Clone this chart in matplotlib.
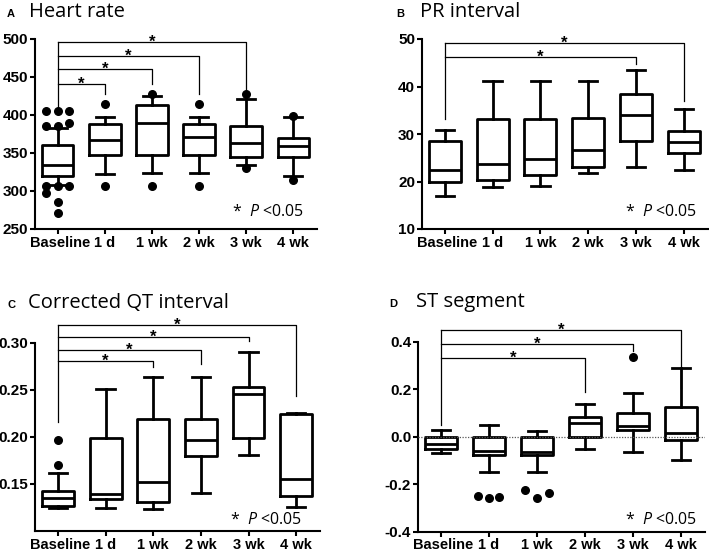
import matplotlib
matplotlib.use("Agg")
import matplotlib.pyplot as plt
from matplotlib.transforms import ScaledTranslation

plt.rcParams["font.family"] = ["Liberation Sans", "DejaVu Sans"]
plt.rcParams["mathtext.fontset"] = "custom"
plt.rcParams["mathtext.rm"] = "Open Sans"
plt.rcParams["mathtext.it"] = "Open Sans:italic"

# ── Data ─────────────────────────────────────────────────────────────────────
GROUPS = ["Baseline", "1 d", "1 wk", "2 wk", "3 wk", "4 wk"]

# A  Heart rate
hr_whislo = [307.5, 322.2, 323.6, 323.6, 333.8, 319.3]
hr_q1     = [319.3, 347.8, 347.8, 347.0, 344.8, 344.8]
hr_med    = [334.0, 366.7, 389.5, 371.0, 363.2, 358.8]
hr_q3     = [361.0, 388.6, 413.6, 388.6, 385.1, 369.7]
hr_whishi = [383.0, 396.9, 425.4, 396.9, 421.5, 396.9]
hr_fliers = [
    [405, 405, 405, 385, 385, 389, 307, 307, 307, 297, 286, 271],
    [414, 307], [427, 307], [414, 307], [427, 330], [399, 315],
]
hr_sig_to   = [1, 2, 3, 4]
hr_sig_y    = [441, 460, 478, 496]
hr_sig_drop = [427, 441, 428, 428]
hr_sig_base = 409

# B  PR interval
pr_whislo = [16.9, 18.8, 19.0, 21.8, 23.0, 22.4]
pr_q1     = [19.8, 20.3, 21.3, 23.0, 28.5, 25.9]
pr_med    = [22.4, 23.6, 24.8, 26.6, 34.0, 28.4]
pr_q3     = [28.6, 33.2, 33.2, 33.4, 38.5, 30.7]
pr_whishi = [30.8, 41.2, 41.2, 41.2, 43.5, 35.3]
pr_fliers = [[], [], [], [], [], []]
pr_sig_to   = [4, 5]
pr_sig_y    = [46.2, 49.2]
pr_sig_drop = [44.7, 37.0]
pr_sig_base = 33.2

# C  Corrected QT interval
qt_whislo = [0.124, 0.124, 0.1235, 0.1405, 0.181, 0.125]
qt_q1     = [0.127, 0.134, 0.1305, 0.1795, 0.199, 0.137]
qt_med    = [0.135, 0.139, 0.152, 0.197, 0.2455, 0.155]
qt_q3     = [0.142, 0.199, 0.2185, 0.2185, 0.253, 0.224]
qt_whishi = [0.162, 0.2505, 0.264, 0.264, 0.290, 0.225]
qt_fliers = [[0.197, 0.170], [], [], [], [], []]
qt_sig_to   = [2, 3, 4, 5]
qt_sig_y    = [0.2807, 0.2926, 0.306, 0.3186]
qt_sig_drop = [0.2747, 0.2779, 0.302, 0.2431]
qt_sig_base = 0.2157

# D  ST segment
st_whislo = [-0.068, -0.147, -0.147, -0.050, -0.065, -0.098]
st_q1     = [-0.052, -0.076, -0.077, 0.000, 0.028, -0.015]
st_med    = [-0.030, -0.062, -0.065, 0.058, 0.045, 0.015]
st_q3     = [0.000, -0.002, -0.002, 0.083, 0.098, 0.127]
st_whishi = [0.028, 0.049, 0.026, 0.139, 0.184, 0.288]
st_fliers = [[], [-0.248, -0.256, -0.254], [-0.225, -0.256, -0.237], [], [0.335], []]
st_sig_to   = [3, 4, 5]
st_sig_y    = [0.330, 0.390, 0.449]
st_sig_drop = [0.187, 0.361, 0.206]
st_sig_base = 0.049

# ── Layout / style ───────────────────────────────────────────────────────────
W, H = 709, 552
LW = 2.0
JITTER = {  # horizontal spread of overlapping outliers (panel, group)
    ("A", 0): [-0.25, 0, 0.25, -0.25, 0, 0.25, -0.25, 0, 0.25, -0.25, 0, 0],
    ("D", 1): [-0.22, 0, 0.22],
    ("D", 2): [-0.25, 0, 0.25],
}

PANELS = [
    dict(tag="A", title="Heart rate", rect=(35, 229, 317, 39), title_xy=(7, 29, 16.7),
         ylim=(250, 500), yticks=[250, 300, 350, 400, 450, 500], fmt="{:.0f}",
         stats=(hr_whislo, hr_q1, hr_med, hr_q3, hr_whishi), fliers=hr_fliers,
         sig=(hr_sig_to, hr_sig_y, hr_sig_drop, hr_sig_base), p_xy=(0.955, 0.09)),
    dict(tag="B", title="PR interval", rect=(421.7, 229, 708, 39), title_xy=(396, 420, 16.7),
         ylim=(10, 50), yticks=[10, 20, 30, 40, 50], fmt="{:.0f}",
         stats=(pr_whislo, pr_q1, pr_med, pr_q3, pr_whishi), fliers=pr_fliers,
         sig=(pr_sig_to, pr_sig_y, pr_sig_drop, pr_sig_base), p_xy=(0.962, 0.09)),
    dict(tag="C", title="Corrected QT interval", rect=(35, 531, 320, 342.7), title_xy=(7, 28, 308.3),
         ylim=(0.10, 0.30), yticks=[0.15, 0.20, 0.25, 0.30], fmt="{:.2f}",
         stats=(qt_whislo, qt_q1, qt_med, qt_q3, qt_whishi), fliers=qt_fliers,
         sig=(qt_sig_to, qt_sig_y, qt_sig_drop, qt_sig_base), p_xy=(0.937, 0.06)),
    dict(tag="D", title="ST segment", rect=(417.7, 531.7, 705, 341.7), title_xy=(389, 416.5, 307.3),
         ylim=(-0.4, 0.4), yticks=[-0.4, -0.2, 0.0, 0.2, 0.4], fmt="{:.1f}",
         stats=(st_whislo, st_q1, st_med, st_q3, st_whishi), fliers=st_fliers,
         sig=(st_sig_to, st_sig_y, st_sig_drop, st_sig_base), p_xy=(0.972, 0.06)),
]


def draw_panel(fig, p):
    x0, y0, x1, y1 = p["rect"]
    ax = fig.add_axes([x0 / W, 1 - y0 / H, (x1 - x0) / W, (y0 - y1) / H])
    whislo, q1, med, q3, whishi = p["stats"]
    stats = [dict(whislo=a, q1=b, med=c, q3=d, whishi=e)
             for a, b, c, d, e in zip(whislo, q1, med, q3, whishi)]
    line = dict(color="black", linewidth=LW)
    ax.bxp(stats, positions=range(len(GROUPS)), widths=0.67, capwidths=0.38,
           showfliers=False, boxprops=line, whiskerprops=line,
           capprops=line, medianprops=line)

    for i, vals in enumerate(p["fliers"]):
        if not vals:
            continue
        dx = JITTER.get((p["tag"], i), [0] * len(vals))
        ax.scatter([i + d for d in dx], vals, s=30, color="black", zorder=4,
                   clip_on=False)

    if p["tag"] == "D":
        ax.axhline(0, color="0.35", lw=0.9, ls=(0, (1, 1.2)), zorder=3)

    # significance brackets
    to, ys, drops, base = p["sig"]
    ax.plot([0, 0], [base, max(ys)], color="black", lw=0.9, clip_on=False)
    for j, y, d in zip(to, ys, drops):
        ax.plot([0, j, j], [y, y, d], color="black", lw=0.9, clip_on=False)
        ax.annotate("*", (j / 2, y), xytext=(0, -3.5), textcoords="offset points",
                    ha="center", va="baseline", fontsize=12, fontweight="bold",
                    annotation_clip=False)

    ax.text(*p["p_xy"], r"*  $\it{P}$ <0.05", transform=ax.transAxes,
            ha="right", va="center", fontsize=11.5, family="Open Sans")

    ax.set_xlim(-0.48, 5.5)
    ax.set_ylim(*p["ylim"])
    ax.set_yticks(p["yticks"])
    ax.set_yticklabels([p["fmt"].format(v) for v in p["yticks"]])
    ax.set_xticks(range(len(GROUPS)))
    ax.set_xticklabels(GROUPS)
    for s in ("top", "right"):
        ax.spines[s].set_visible(False)
    for s in ("left", "bottom"):
        ax.spines[s].set_linewidth(1.5)
    ax.tick_params(axis="both", length=3.5, width=1.5, pad=1.2)
    ax.tick_params(axis="x", labelsize=10.5)
    ax.tick_params(axis="y", labelsize=11)
    for lab in ax.get_xticklabels() + ax.get_yticklabels():
        lab.set_fontweight("bold")
    # the first label sits a little right of its tick, as in the source figure
    first = ax.get_xticklabels()[0]
    first.set_transform(first.get_transform()
                        + ScaledTranslation(2.5 / 100, 0, fig.dpi_scale_trans))

    tx, ttx, ty = p["title_xy"]
    fig.text(tx / W, 1 - ty / H, p["tag"], fontsize=8, fontweight="bold",
             va="baseline", ha="left")
    fig.text(ttx / W, 1 - ty / H, p["title"], fontsize=14.5, family="Open Sans",
             va="baseline", ha="left")
    return ax


fig = plt.figure(figsize=(W / 100, H / 100), dpi=100)
for panel in PANELS:
    draw_panel(fig, panel)
fig.savefig("out.png", dpi=100)
